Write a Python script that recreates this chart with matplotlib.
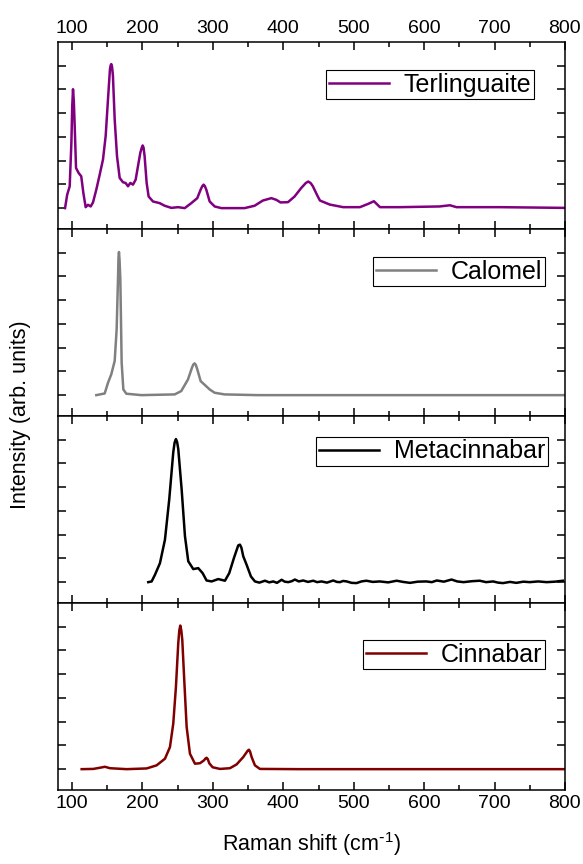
import numpy as np
import matplotlib
matplotlib.use("Agg")
import matplotlib.pyplot as plt
from matplotlib.ticker import MultipleLocator, FixedLocator

plt.rcParams['font.family'] = ['Liberation Sans', 'DejaVu Sans']

# spectra (Raman shift in cm-1, intensity in arb. units)
terl_x = [90, 93, 96.6, 99, 100.2, 101.3, 102.5, 103.7, 105.6, 109.3, 113, 116, 119.3, 122.6,
          126.4, 129.7, 134.4, 139.2, 143.9, 147.7, 151, 153.8, 154.8, 155.7, 156.8, 158,
          160.5, 163.8, 167.6, 172.3, 176, 179.4, 182.7, 186.5, 190.3, 193.6, 196.9, 199,
          200.2, 201.5, 203, 205.9, 208.7, 214.9, 224.4, 231.5, 241, 250.4, 260, 269.3, 277.8,
          282.6, 285, 286.8, 288.5, 290.6, 295.4, 302.5, 312, 345, 359.2, 371, 383, 390, 396,
          406.6, 416, 425.5, 432, 435.5, 439, 442, 448, 452, 466, 485, 508.8, 520.6, 528.7,
          537.3, 565.6, 622, 636.6, 646, 707.6, 800]
terl_y = [0, 0.56, 0.92, 2.76, 4.3, 5.01, 4.5, 3.46, 1.69, 1.48, 1.34, 0.64, 0.04, 0.14,
          0.07, 0.24, 0.78, 1.41, 2.05, 3.04, 4.59, 5.86, 6.02, 6.07, 5.95, 5.58,
          3.74, 2.19, 1.27, 1.09, 1.06, 0.92, 1.06, 0.99, 1.2, 1.77, 2.33, 2.55,
          2.64, 2.55, 2.19, 1.06, 0.49, 0.28, 0.21, 0.1, 0.01, 0.04, 0, 0.21, 0.42,
          0.78, 0.93, 0.99, 0.93, 0.78, 0.28, 0.07, 0, 0, 0.1, 0.32, 0.42, 0.35, 0.24,
          0.25, 0.49, 0.85, 1.06, 1.12, 1.05, 0.92, 0.55, 0.32, 0.15, 0.04, 0.04, 0.18, 0.29,
          0.04, 0.04, 0.07, 0.12, 0.04, 0.04, 0.01]

calo_x = [134.4, 146.3, 151, 155.7, 160.5, 163.3, 165.2, 165.9, 166.6, 167.4, 168.5, 170.4,
          172.8, 177, 198.3, 245.7, 255, 264.6, 270.3, 272.2, 274, 275.8, 277.8, 282.6, 289.2,
          295.4, 302.5, 316.7, 364, 500, 800]
calo_y = [0, 0.07, 0.52, 0.88, 1.44, 2.78, 4.9, 5.8, 6.03, 5.7, 4.9, 1.37,
          0.24, 0.06, 0, 0.03, 0.17, 0.66, 1.16, 1.29, 1.34, 1.27, 1.09, 0.59, 0.41,
          0.24, 0.1, 0.03, 0, 0, 0]

meta_x = [208.2, 213, 217.7, 224.8, 231.9, 238, 243.7, 245.6, 247.5, 249.2, 250.8, 255.6,
          260.3, 265, 272.1, 279.2, 285.4, 291, 298.2, 307.6, 317.1, 323.2, 329.9, 336,
          338.4, 340.5, 343.1, 347.9, 354, 359.7, 366, 373.9, 380, 385.7, 391, 397.6, 402,
          407, 412, 416.5, 422, 428.3, 435, 442.5, 448, 454.3, 462, 470.9, 476, 480.4, 485,
          490, 497, 504, 511, 518, 527, 537, 549, 561, 570, 580, 591, 603, 611, 618, 628,
          639, 647, 656, 668, 679, 688, 698, 705, 712, 722, 731, 741, 750, 762, 774, 786, 797]
meta_y = [0, 0.03, 0.31, 0.8, 1.79, 3.49, 5.47, 5.88, 6.03, 5.9, 5.61, 3.91,
          1.94, 0.88, 0.55, 0.59, 0.38, 0.07, 0.03, 0.13, 0.06, 0.38, 1.02, 1.55,
          1.58, 1.45, 1.09, 0.73, 0.24, 0.03, -0.02, 0.06, -0.01, 0.03, -0.03, 0.1, 0.02,
          0, 0.04, 0.11, 0.03, 0.07, 0.01, 0.06, 0.0, 0.03, -0.02, 0.07, 0.01, 0, 0.05,
          0.03, -0.03, -0.04, 0.03, 0.06, 0.01, 0.03, -0.01, 0.06, 0.01, -0.03, 0.02, 0.03, 0.0,
          0.07, 0.02, 0.11, 0.03, 0, 0.04, 0.06, 0.0, 0.03, -0.02, -0.04, 0.01, -0.03, 0.02,
          0, 0.03, 0, 0.02, 0.06]

cinn_x = [113.6, 130.1, 139.6, 146.7, 153.8, 177.5, 205.9, 220, 231.9, 239, 243.7, 247.5,
          250.8, 252.3, 253.7, 255.1, 256.5, 259.3, 262.7, 267.4, 274.5, 281.6, 287.3, 289.5,
          291.1, 292.8, 294.8, 299.6, 310, 324.2, 333.7, 343.1, 349.5, 351.2, 352.8, 355,
          359.7, 366.8, 423.6, 600, 800]
cinn_y = [0, 0.01, 0.06, 0.1, 0.04, 0, 0.03, 0.16, 0.44, 0.93, 1.92, 3.47,
          5.31, 5.85, 6.05, 5.85, 5.45, 3.76, 1.78, 0.65, 0.23, 0.25, 0.37, 0.45,
          0.48, 0.42, 0.25, 0.08, 0.01, 0.04, 0.2, 0.51, 0.78, 0.82, 0.74, 0.51,
          0.16, 0.01, 0, 0, 0]

names = ['Terlinguaite', 'Calomel', 'Metacinnabar', 'Cinnabar']
colors = ['#800080', '#808080', '#000000', '#800000']
series = [(terl_x, terl_y), (calo_x, calo_y), (meta_x, meta_y), (cinn_x, cinn_y)]
# legend anchor (upper right corner, axes fraction)
leg_pos = [(0.939, 0.849), (0.96, 0.85), (0.966, 0.888), (0.96, 0.80)]

fig, axes = plt.subplots(4, 1, sharex=True, figsize=(5.83, 8.64), dpi=100,
                         gridspec_kw={'hspace': 0})
fig.subplots_adjust(left=0.0995, right=0.969, top=0.9514, bottom=0.0856)

for i, ax in enumerate(axes):
    x, y = series[i]
    ax.plot(x, y, color=colors[i], lw=1.8, label=names[i],
            solid_joinstyle='round')
    ax.set_xlim(80, 800)
    ax.set_ylim(-0.88, 7.0)
    ax.xaxis.set_major_locator(MultipleLocator(100))
    ax.xaxis.set_minor_locator(MultipleLocator(50))
    ax.yaxis.set_major_locator(FixedLocator(range(0, 7)))
    ax.tick_params(axis='both', which='both', direction='in', top=True, right=True,
                   width=1.1, labelsize=14)
    ax.tick_params(axis='x', which='major', length=6)
    ax.tick_params(axis='x', which='minor', length=3.5)
    ax.tick_params(axis='y', which='major', length=6, labelleft=False)
    ax.tick_params(axis='x', labelbottom=(i == 3), labeltop=(i == 0))
    for s in ax.spines.values():
        s.set_linewidth(1.1)
    leg = ax.legend(loc='upper right', bbox_to_anchor=leg_pos[i], fontsize=18,
                    fancybox=False, edgecolor='black', framealpha=1, borderaxespad=0,
                    handlelength=2.4, handletextpad=0.6, borderpad=0.1)
    leg.get_frame().set_linewidth(0.8)

axes[3].set_xlabel(r'Raman shift (cm$^{\mathregular{\text{-}1}}$)', fontsize=15.5,
                   labelpad=13)
fig.text(0.036, 0.52, 'Intensity (arb. units)', rotation=90, fontsize=15.5,
         ha='center', va='center')

fig.savefig('out.png', dpi=100)
